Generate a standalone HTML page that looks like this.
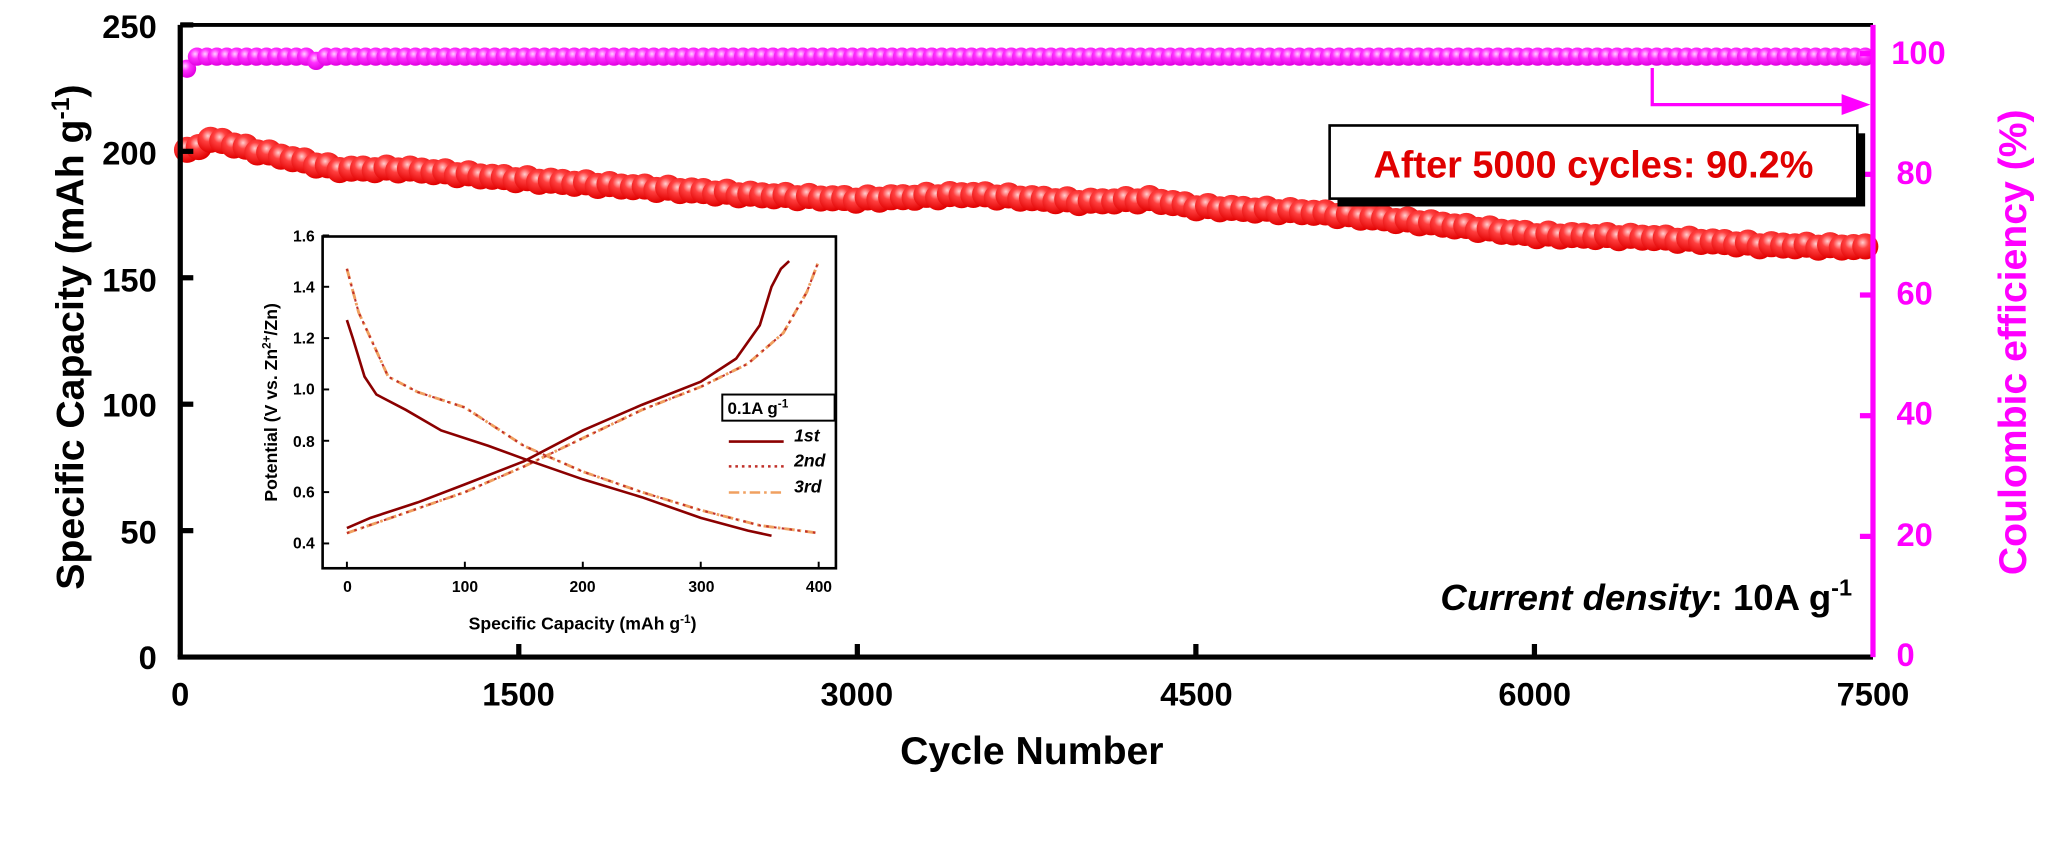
<!DOCTYPE html>
<html><head><meta charset="utf-8"><style>
html,body{margin:0;padding:0;background:#fff;}
svg{display:block;font-family:"Liberation Sans",Arial,sans-serif;}
</style></head><body>
<svg id="s" width="2048" height="857" viewBox="0 0 1568 656" xmlns="http://www.w3.org/2000/svg">
<defs>
<radialGradient id="rg" cx="0.4" cy="0.35" r="0.65"><stop offset="0" stop-color="#ffd0d0"/><stop offset="0.35" stop-color="#ff4040"/><stop offset="1" stop-color="#e00000"/></radialGradient>
<radialGradient id="mg" cx="0.4" cy="0.35" r="0.65"><stop offset="0" stop-color="#ffd0ff"/><stop offset="0.4" stop-color="#ff30ff"/><stop offset="1" stop-color="#e000e0"/></radialGradient>
</defs>
<g id="data"></g>
<line x1="138" y1="19" x2="1434" y2="19" stroke="#000" stroke-width="3"/>
<line x1="138" y1="19" x2="138" y2="503" stroke="#000" stroke-width="4"/>
<line x1="136" y1="503" x2="1434" y2="503" stroke="#000" stroke-width="4"/>
<line x1="1434" y1="19" x2="1434" y2="503" stroke="#ff00ff" stroke-width="4"/>
<g id="ticks"></g>
<g font-weight="bold" font-size="25" text-anchor="end" fill="#000">
<text x="120" y="29">250</text><text x="120" y="126">200</text><text x="120" y="223">150</text><text x="120" y="319">100</text><text x="120" y="416">50</text><text x="120" y="512">0</text>
</g>
<g font-weight="bold" font-size="25" text-anchor="middle" fill="#000">
<text x="138" y="540">0</text><text x="397" y="540">1500</text><text x="656" y="540">3000</text><text x="916" y="540">4500</text><text x="1175" y="540">6000</text><text x="1434" y="540">7500</text>
</g>
<g font-weight="bold" font-size="25" fill="#ff00ff">
<text x="1448" y="49">100</text><text x="1452" y="141">80</text><text x="1452" y="233">60</text><text x="1452" y="325">40</text><text x="1452" y="418">20</text><text x="1452" y="510">0</text>
</g>
<text x="790" y="585" font-weight="bold" font-size="30" text-anchor="middle">Cycle Number</text>
<text transform="translate(64,258) rotate(-90)" font-weight="bold" font-size="30" text-anchor="middle">Specific Capacity (mAh g<tspan dy="-11" font-size="19">-1</tspan><tspan dy="11">)</tspan></text>
<text transform="translate(1551,262) rotate(-90)" font-weight="bold" font-size="30" text-anchor="middle" fill="#ff00ff">Coulombic efficiency (%)</text>
<rect x="1024" y="102" width="404" height="56" fill="#000"/>
<rect x="1018" y="96" width="404" height="56" fill="#fff" stroke="#000" stroke-width="2"/>
<text x="1220" y="136" font-weight="bold" font-size="29" fill="#e00000" text-anchor="middle">After 5000 cycles: 90.2%</text>
<polyline points="1265,52 1265,80 1418,80" fill="none" stroke="#ff00ff" stroke-width="2.5"/>
<polygon points="1432,80 1410,72 1410,88" fill="#ff00ff"/>
<text x="1418" y="467" font-size="28" text-anchor="end"><tspan font-style="italic" font-weight="bold">Current density</tspan><tspan font-weight="bold">: 10A g</tspan><tspan dy="-11" font-size="18" font-weight="bold">-1</tspan></text>
<rect x="247" y="181" width="393" height="254" fill="#fff" stroke="#000" stroke-width="2"/>
<g id="inset"></g>
<g font-weight="bold" font-size="12" text-anchor="end">
<text x="241" y="185">1.6</text><text x="241" y="224">1.4</text><text x="241" y="263">1.2</text><text x="241" y="302">1.0</text><text x="241" y="342">0.8</text><text x="241" y="381">0.6</text><text x="241" y="420">0.4</text>
</g>
<g font-weight="bold" font-size="12" text-anchor="middle">
<text x="266" y="453">0</text><text x="356" y="453">100</text><text x="446" y="453">200</text><text x="537" y="453">300</text><text x="627" y="453">400</text>
</g>
<text x="446" y="482" font-weight="bold" font-size="13.5" text-anchor="middle">Specific Capacity (mAh g<tspan dy="-5" font-size="9">-1</tspan><tspan dy="5">)</tspan></text>
<text transform="translate(212,308) rotate(-90)" font-weight="bold" font-size="13.5" text-anchor="middle">Potential (V vs. Zn<tspan dy="-5" font-size="9">2+</tspan><tspan dy="5">/Zn)</tspan></text>
<rect x="553" y="302" width="86" height="20" fill="#fff" stroke="#000" stroke-width="1.5"/>
<text x="557" y="317" font-weight="bold" font-size="13">0.1A g<tspan dy="-5" font-size="9">-1</tspan></text>
<line x1="558" y1="338" x2="600" y2="338" stroke="#8b0000" stroke-width="2"/>
<line x1="558" y1="357" x2="600" y2="357" stroke="#c0302a" stroke-width="2" stroke-dasharray="2,3"/>
<line x1="558" y1="377" x2="600" y2="377" stroke="#f0a060" stroke-width="2" stroke-dasharray="8,3,2,3"/>
<g font-weight="bold" font-style="italic" font-size="13.5"><text x="608" y="338">1st</text><text x="608" y="357">2nd</text><text x="608" y="377">3rd</text></g>
</svg>
<script>
var NS="http://www.w3.org/2000/svg";
function el(p,t,a){var e=document.createElementNS(NS,t);for(var k in a)e.setAttribute(k,a[k]);p.appendChild(e);return e;}
var data=document.getElementById('data'),ticks=document.getElementById('ticks'),inset=document.getElementById('inset');
function X(c){return 138+(c/7500)*1296;}
function YL(v){return 503-v*1.936;}
function YR(v){return 503-v*4.62;}
function interp(kp,x){for(var i=0;i<kp.length-1;i++){if(x<=kp[i+1][0]){var t=(x-kp[i][0])/(kp[i+1][0]-kp[i][0]);return kp[i][1]+t*(kp[i+1][1]-kp[i][1]);}}return kp[kp.length-1][1];}
var red=[[30,200],[150,205],[300,201],[500,197],[700,193],[1000,193],[1500,189],[2000,186],[2500,183],[3000,181],[3500,183],[4000,180],[4300,181],[4500,178],[5000,176],[5500,172],[5700,170],[6000,167],[6500,166],[7000,163],[7500,162]];
for(var c=30;c<=7480;c+=52){el(data,'circle',{cx:X(c),cy:YL(interp(red,c)+Math.sin(c*0.05)*0.6),r:10,fill:'url(#rg)'});}
for(var c=30;c<=7480;c+=44){var v=99.5;if(c<60)v=97.5;if(Math.abs(c-610)<25)v=98.8;el(data,'circle',{cx:X(c),cy:YR(v),r:7,fill:'url(#mg)'});}
[250,200,150,100,50].forEach(function(v){el(ticks,'line',{x1:138,x2:148,y1:YL(v),y2:YL(v),stroke:'#000','stroke-width':4});});
[1500,3000,4500,6000].forEach(function(v){el(ticks,'line',{x1:X(v),x2:X(v),y1:503,y2:493,stroke:'#000','stroke-width':4});});
[100,80,60,40,20].forEach(function(v){el(ticks,'line',{x1:1434,x2:1424,y1:YR(v),y2:YR(v),stroke:'#ff00ff','stroke-width':4});});
function IX(c){return 265.6+0.903*c;}function IY(v){return 416-(v-0.4)*196.5;}
function path(pts){return pts.map(function(p,i){return (i?'L':'M')+IX(p[0]).toFixed(1)+','+IY(p[1]).toFixed(1);}).join(' ');}
[0,100,200,300,400].forEach(function(v){el(inset,'line',{x1:IX(v),x2:IX(v),y1:435,y2:430,stroke:'#000','stroke-width':1.5});});
[0.4,0.6,0.8,1.0,1.2,1.4,1.6].forEach(function(v){el(inset,'line',{x1:247,x2:252,y1:IY(v),y2:IY(v),stroke:'#000','stroke-width':1.5});});
var d1=[[0,1.27],[5,1.2],[15,1.05],[25,0.98],[50,0.92],[80,0.84],[120,0.78],[150,0.73],[200,0.65],[250,0.58],[300,0.5],[340,0.45],[360,0.43]];
var c1=[[0,0.46],[20,0.5],[60,0.56],[100,0.63],[150,0.72],[200,0.84],[250,0.94],[300,1.03],[330,1.12],[350,1.25],[360,1.4],[368,1.47],[375,1.5]];
var d2=[[0,1.47],[10,1.3],[20,1.2],[35,1.05],[60,0.99],[100,0.93],[150,0.78],[200,0.68],[250,0.6],[300,0.53],[350,0.47],[400,0.44]];
var c2=[[0,0.44],[50,0.52],[100,0.6],[150,0.7],[200,0.81],[250,0.92],[300,1.01],[340,1.1],[370,1.22],[390,1.38],[400,1.5]];
[d2,c2].forEach(function(p){el(inset,'path',{d:path(p),fill:'none',stroke:'#f0a060','stroke-width':2.2,'stroke-dasharray':'8,3,2,3'});el(inset,'path',{d:path(p),fill:'none',stroke:'#c0302a','stroke-width':1.6,'stroke-dasharray':'2,4'});});
[d1,c1].forEach(function(p){el(inset,'path',{d:path(p),fill:'none',stroke:'#8b0000','stroke-width':2});});
</script>
</body></html>
